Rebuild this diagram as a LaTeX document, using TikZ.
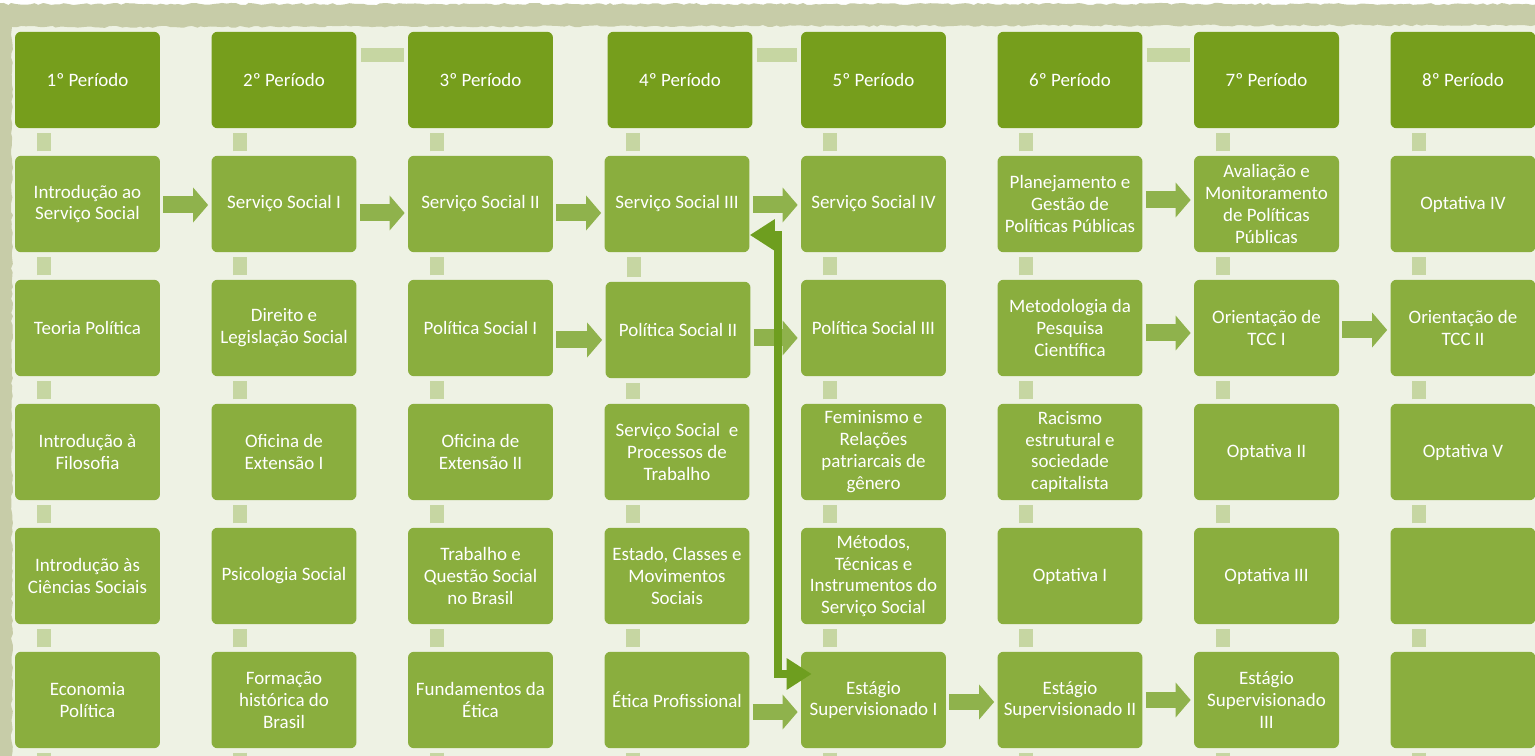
\documentclass[tikz,border=0pt]{standalone}
\usepackage{fontspec}
\setmainfont{Carlito}
\usetikzlibrary{arrows.meta,calc,decorations.pathmorphing}
\definecolor{paper}{HTML}{EEF2E4}
\definecolor{rim}{HTML}{C7CCA8}
\definecolor{hdrgreen}{HTML}{769E1C}
\definecolor{boxgreen}{HTML}{8AAE3E}
\definecolor{stubgreen}{HTML}{C6D6A2}
\definecolor{flowgreen}{HTML}{8FB24C}
\definecolor{linkgreen}{HTML}{6E9E1F}
\begin{document}
\begin{tikzpicture}[x=0.02cm,y=-0.02cm,
    hdr/.style={fill=hdrgreen,rounded corners=0.12cm,minimum width=2.9cm,minimum height=1.93cm,inner sep=0pt,align=center,text=white,font=\fontsize{10.8}{12.5}\selectfont},
    course/.style={hdr,fill=boxgreen},
    stub/.style={draw=stubgreen,line width=0.28cm,shorten <=0.08cm,shorten >=0.08cm},
    flow/.style={draw=flowgreen,line width=0.34cm,shorten <=0.06cm,shorten >=0.06cm,-{Triangle[length=0.3cm,width=0.68cm]}},
    link/.style={draw=linkgreen,line width=0.16cm,{Triangle[length=0.5cm,width=0.6cm]}-{Triangle[length=0.5cm,width=0.6cm]}}]
    \useasboundingbox (0,0) rectangle (1535,756);
    % background and rough top/left edge
    \fill[white] (0,0) rectangle (1535,756);
    \fill[paper] (0,20) rectangle (1535,756);
    \fill[rim,decorate,decoration={random steps,segment length=2.5pt,amplitude=0.6pt}] (-10,4) -- (1545,4) -- (1545,25) -- (12,27) -- (12,766) -- (-10,766) -- cycle;
    % periods
    \node[hdr] (c1r0) at (87.5,80) {1º Período};
    \node[hdr] (c2r0) at (284,80) {2º Período};
    \node[hdr] (c3r0) at (480.5,80) {3º Período};
    \node[hdr] (c4r0) at (680,80) {4º Período};
    \node[hdr] (c5r0) at (873.5,80) {5º Período};
    \node[hdr] (c6r0) at (1070,80) {6º Período};
    \node[hdr] (c7r0) at (1266.5,80) {7º Período};
    \node[hdr] (c8r0) at (1463,80) {8º Período};
    % 1st
    \node[course] (c1r1) at (87.5,204) {Introdução ao\\Serviço Social};
    \node[course] (c1r2) at (87.5,328) {Teoria Política};
    \node[course] (c1r3) at (87.5,452) {Introdução à\\Filosofia};
    \node[course] (c1r4) at (87.5,576) {Introdução às\\Ciências Sociais};
    \node[course] (c1r5) at (87.5,700) {Economia\\Política};
    % 2nd
    \node[course] (c2r1) at (284,204) {Serviço Social I};
    \node[course] (c2r2) at (284,328) {Direito e\\Legislação Social};
    \node[course] (c2r3) at (284,452) {Oficina de\\Extensão I};
    \node[course] (c2r4) at (284,576) {Psicologia Social};
    \node[course] (c2r5) at (284,700) {Formação\\histórica do\\Brasil};
    % 3rd
    \node[course] (c3r1) at (480.5,204) {Serviço Social II};
    \node[course] (c3r2) at (480.5,328) {Política Social I};
    \node[course] (c3r3) at (480.5,452) {Oficina de\\Extensão II};
    \node[course] (c3r4) at (480.5,576) {Trabalho e\\Questão Social\\no Brasil};
    \node[course] (c3r5) at (480.5,700) {Fundamentos da\\Ética};
    % 4th
    \node[course] (c4r1) at (677,204) {Serviço Social III};
    \node[course] (c4r2) at (678,330) {Política Social II};
    \node[course] (c4r3) at (677,452) {Serviço Social~ e\\Processos de\\Trabalho};
    \node[course] (c4r4) at (677,576) {Estado, Classes e\\Movimentos\\Sociais};
    \node[course] (c4r5) at (677,700) {Ética Profissional};
    % 5th
    \node[course] (c5r1) at (873.5,204) {Serviço Social IV};
    \node[course] (c5r2) at (873.5,328) {Política Social III};
    \node[course] (c5r3) at (873.5,452) {Feminismo e\\Relações\\patriarcais de\\gênero};
    \node[course] (c5r4) at (873.5,576) {Métodos,\\Técnicas e\\Instrumentos do\\Serviço Social};
    \node[course] (c5r5) at (873.5,700) {Estágio\\Supervisionado I};
    % 6th
    \node[course] (c6r1) at (1070,204) {Planejamento e\\Gestão de\\Políticas Públicas};
    \node[course] (c6r2) at (1070,328) {Metodologia da\\Pesquisa\\Científica};
    \node[course] (c6r3) at (1070,452) {Racismo\\estrutural e\\sociedade\\capitalista};
    \node[course] (c6r4) at (1070,576) {Optativa I};
    \node[course] (c6r5) at (1070,700) {Estágio\\Supervisionado II};
    % 7th
    \node[course] (c7r1) at (1266.5,204) {Avaliação e\\Monitoramento\\de Políticas\\Públicas};
    \node[course] (c7r2) at (1266.5,328) {Orientação de\\TCC I};
    \node[course] (c7r3) at (1266.5,452) {Optativa II};
    \node[course] (c7r4) at (1266.5,576) {Optativa III};
    \node[course] (c7r5) at (1266.5,700) {Estágio\\Supervisionado\\III};
    % 8th
    \node[course] (c8r1) at (1463,204) {Optativa IV};
    \node[course] (c8r2) at (1463,328) {Orientação de\\TCC II};
    \node[course] (c8r3) at (1463,452) {Optativa V};
    \node[course] (c8r4) at (1463,576) {};
    \node[course] (c8r5) at (1463,700) {};
    % stubs
    \foreach \c in {1,...,8}{
        \foreach \r [count=\s from 0] in {1,...,5}
            \draw[stub] ($(c\c r\r.north west)+(29,0)$) coordinate (lo) -- (lo |- c\c r\s.south);
        \draw[stub] ($(c\c r5.south west)+(29,0)$) -- ++(0,14);
    }
    \draw[stub] ($(c2r0.east)+(0,-25)$) -- ($(c3r0.west)+(0,-25)$);
    \draw[stub] ($(c4r0.east)+(0,-25)$) -- ($(c5r0.west)+(0,-25)$);
    \draw[stub] ($(c6r0.east)+(0,-25)$) -- ($(c7r0.west)+(0,-25)$);
    % sequences
    \draw[flow] ($(c1r1.east)+(0,1)$) -- ($(c2r1.west)+(0,1)$);
    \draw[flow] ($(c2r1.east)+(0,9)$) -- ($(c3r1.west)+(0,9)$);
    \draw[flow] ($(c3r1.east)+(0,9)$) -- ($(c4r1.west)+(0,9)$);
    \draw[flow] ($(c4r1.east)+(0,1)$) -- ($(c5r1.west)+(0,1)$);
    \draw[flow] ($(c6r1.east)+(0,-4)$) -- ($(c7r1.west)+(0,-4)$);
    \draw[flow] ($(c3r2.east)+(0,12)$) -- ($(c4r2.west)+(0,10)$);
    \draw[flow] ($(c4r2.east)+(0,8)$) -- ($(c5r2.west)+(0,10)$);
    \draw[flow] ($(c6r2.east)+(0,5)$) -- ($(c7r2.west)+(0,5)$);
    \draw[flow] ($(c7r2.east)+(0,2)$) -- ($(c8r2.west)+(0,2)$);
    \draw[flow] ($(c4r5.east)+(0,12)$) -- ($(c5r5.west)+(0,12)$);
    \draw[flow] ($(c5r5.east)+(0,2)$) -- ($(c6r5.west)+(0,2)$);
    \draw[flow] ($(c6r5.east)+(0,0)$) -- ($(c7r5.west)+(0,0)$);
    % Servico Social III <-> Estagio I
    \coordinate (linktop) at (778,235);
    \coordinate (linkbot) at (778,674);
    \draw[link] ($(c4r1.east)+(0,31)$) -- (linktop) -- (linkbot) -- ($(c5r5.west)+(11,-26)$);
\end{tikzpicture}
\end{document}
